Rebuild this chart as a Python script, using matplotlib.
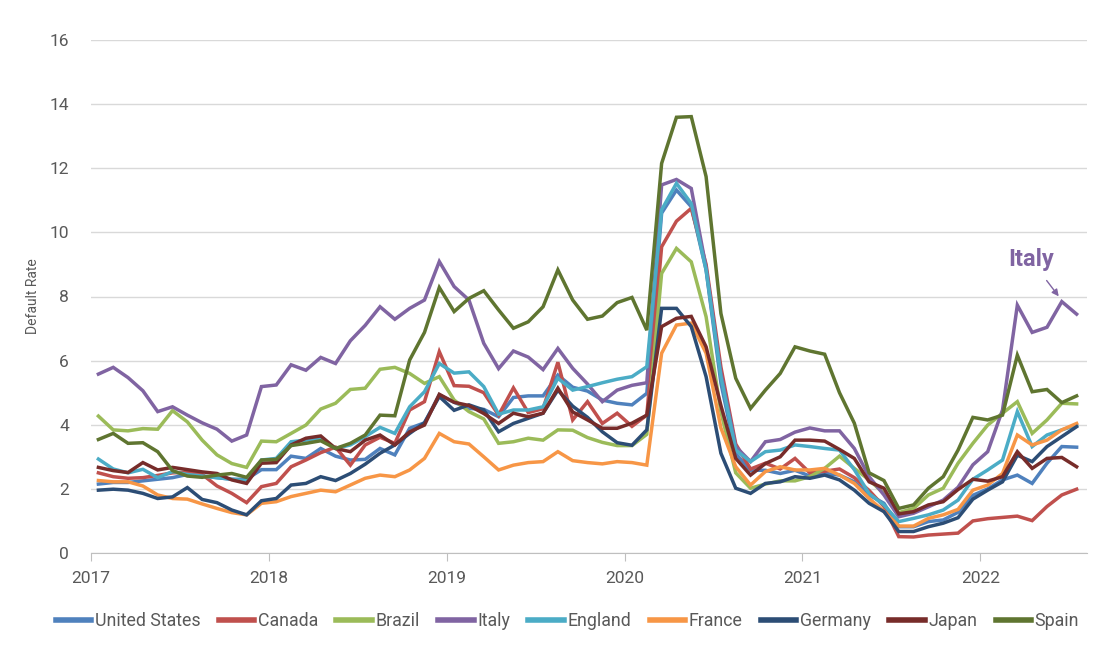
import matplotlib
matplotlib.use("Agg")
import matplotlib.pyplot as plt
import numpy as np

plt.rcParams['font.family'] = ['Liberation Sans Narrow', 'Roboto', 'DejaVu Sans']

# monthly default rates, Jan 2017 .. Jul 2022
years = [2017, 2018, 2019, 2020, 2021, 2022]

united_states = [2.15, 2.2, 2.2, 2.25, 2.3, 2.35, 2.45, 2.4, 2.35, 2.3, 2.3, 2.6,
                 2.6, 3.02, 2.95, 3.26, 3.02, 2.9, 2.92, 3.26, 3.06, 3.89, 4.06, 4.93,
                 4.7, 4.51, 4.48, 4.25, 4.85, 4.9, 4.9, 5.55, 5.17, 5.05, 4.77, 4.67,
                 4.62, 4.98, 10.6, 11.32, 10.8, 8.83, 5.3, 3.1, 2.58, 2.58, 2.48, 2.58,
                 2.4, 2.48, 2.43, 2.22, 1.81, 1.55, 0.82, 0.82, 0.98, 1.03, 1.27, 1.8,
                 2.0, 2.28, 2.43, 2.17, 2.8, 3.32, 3.3]
canada = [2.5, 2.38, 2.33, 2.35, 2.42, 2.5, 2.52, 2.45, 2.09, 1.86, 1.57, 2.07,
          2.17, 2.69, 2.9, 3.13, 3.3, 2.74, 3.37, 3.61, 3.42, 4.46, 4.72, 6.28,
          5.22, 5.2, 5.0, 4.3, 5.15, 4.38, 4.5, 5.95, 4.15, 4.72, 4.04, 4.36,
          3.95, 4.3, 9.55, 10.35, 10.75, 9.0, 5.8, 3.4, 2.62, 2.8, 2.62, 2.95,
          2.5, 2.55, 2.62, 2.35, 1.95, 1.45, 0.51, 0.5, 0.56, 0.59, 0.62, 1.0,
          1.07, 1.11, 1.15, 1.01, 1.45, 1.81, 1.99]
brazil = [4.27, 3.84, 3.81, 3.88, 3.86, 4.44, 4.09, 3.52, 3.06, 2.79, 2.67, 3.49,
          3.47, 3.73, 3.99, 4.49, 4.67, 5.1, 5.14, 5.73, 5.79, 5.6, 5.29, 5.5,
          4.77, 4.41, 4.18, 3.42, 3.47, 3.58, 3.52, 3.84, 3.83, 3.6, 3.45, 3.35,
          3.35, 3.7, 8.72, 9.5, 9.08, 7.37, 4.4, 2.5, 2.02, 2.15, 2.25, 2.25,
          2.38, 2.64, 3.02, 2.64, 2.28, 1.86, 1.26, 1.39, 1.81, 2.02, 2.8, 3.42,
          3.99, 4.36, 4.72, 3.73, 4.15, 4.67, 4.65]
italy = [5.58, 5.79, 5.47, 5.06, 4.41, 4.56, 4.3, 4.06, 3.86, 3.49, 3.68, 5.19,
         5.24, 5.87, 5.7, 6.1, 5.91, 6.62, 7.1, 7.68, 7.29, 7.63, 7.89, 9.09,
         8.31, 7.89, 6.54, 5.75, 6.3, 6.11, 5.72, 6.38, 5.76, 5.27, 4.72, 5.08,
         5.23, 5.31, 11.48, 11.65, 11.37, 8.9, 5.6, 3.32, 2.85, 3.47, 3.54, 3.77,
         3.9, 3.81, 3.81, 3.26, 2.38, 1.81, 1.13, 1.24, 1.44, 1.65, 2.05, 2.75,
         3.16, 4.46, 7.73, 6.88, 7.04, 7.84, 7.45]
england = [2.93, 2.62, 2.5, 2.61, 2.35, 2.54, 2.45, 2.4, 2.35, 2.3, 2.25, 2.9,
           2.95, 3.47, 3.52, 3.58, 3.26, 3.37, 3.63, 3.92, 3.73, 4.56, 5.03, 5.91,
           5.61, 5.65, 5.19, 4.33, 4.46, 4.46, 4.56, 5.45, 5.08, 5.19, 5.31, 5.42,
           5.5, 5.81, 10.7, 11.53, 10.9, 8.83, 5.5, 3.21, 2.85, 3.16, 3.21, 3.37,
           3.32, 3.26, 3.21, 2.6, 1.85, 1.5, 0.98, 1.08, 1.19, 1.34, 1.65, 2.3,
           2.59, 2.9, 4.41, 3.32, 3.68, 3.84, 3.99]
france = [2.26, 2.22, 2.22, 2.09, 1.81, 1.7, 1.68, 1.53, 1.39, 1.26, 1.19, 1.55,
          1.6, 1.76, 1.86, 1.96, 1.91, 2.12, 2.33, 2.43, 2.38, 2.59, 2.95, 3.73,
          3.47, 3.4, 3.0, 2.59, 2.74, 2.82, 2.85, 3.16, 2.88, 2.82, 2.78, 2.85,
          2.82, 2.74, 6.23, 7.11, 7.17, 6.23, 3.9, 2.69, 2.12, 2.54, 2.69, 2.59,
          2.59, 2.64, 2.43, 2.17, 1.7, 1.3, 0.84, 0.84, 1.08, 1.19, 1.36, 1.96,
          2.12, 2.48, 3.68, 3.37, 3.52, 3.84, 4.04]
germany = [1.96, 1.99, 1.96, 1.86, 1.7, 1.75, 2.04, 1.67, 1.57, 1.34, 1.19, 1.63,
           1.7, 2.12, 2.17, 2.38, 2.26, 2.48, 2.77, 3.11, 3.37, 3.73, 4.06, 4.88,
           4.45, 4.62, 4.46, 3.78, 4.04, 4.2, 4.36, 5.08, 4.58, 4.23, 3.78, 3.44,
           3.36, 3.84, 7.63, 7.63, 7.06, 5.5, 3.11, 2.02, 1.86, 2.17, 2.22, 2.38,
           2.33, 2.43, 2.28, 1.96, 1.55, 1.29, 0.67, 0.67, 0.82, 0.93, 1.1, 1.68,
           1.96, 2.22, 3.05, 2.85, 3.32, 3.63, 3.94]
japan = [2.67, 2.57, 2.51, 2.82, 2.59, 2.67, 2.6, 2.53, 2.48, 2.28, 2.17, 2.8,
         2.82, 3.37, 3.58, 3.65, 3.26, 3.16, 3.52, 3.68, 3.37, 3.78, 3.99, 4.95,
         4.7, 4.6, 4.35, 4.04, 4.36, 4.25, 4.36, 5.14, 4.4, 4.15, 3.89, 3.89,
         4.05, 4.3, 7.06, 7.32, 7.38, 6.43, 4.6, 2.95, 2.43, 2.79, 3.0, 3.52,
         3.52, 3.49, 3.23, 2.95, 2.22, 2.02, 1.22, 1.29, 1.5, 1.6, 1.98, 2.3,
         2.24, 2.38, 3.16, 2.64, 2.95, 2.98, 2.69]
spain = [3.54, 3.73, 3.42, 3.44, 3.16, 2.57, 2.4, 2.36, 2.43, 2.48, 2.36, 2.9,
         2.92, 3.35, 3.42, 3.5, 3.26, 3.42, 3.68, 4.3, 4.28, 6.02, 6.88, 8.28,
         7.53, 7.94, 8.18, 7.58, 7.01, 7.21, 7.68, 8.83, 7.89, 7.29, 7.39, 7.81,
         7.97, 6.95, 12.15, 13.59, 13.61, 11.74, 7.47, 5.45, 4.51, 5.08, 5.6, 6.43,
         6.3, 6.2, 5.0, 4.05, 2.5, 2.26, 1.39, 1.5, 2.02, 2.38, 3.21, 4.23,
         4.15, 4.3, 6.17, 5.03, 5.1, 4.69, 4.9]

series = [
    ('United States', united_states, '#4F81BD'),
    ('Canada', canada, '#C0504D'),
    ('Brazil', brazil, '#9BBB59'),
    ('Italy', italy, '#8064A2'),
    ('England', england, '#4BACC6'),
    ('France', france, '#F79646'),
    ('Germany', germany, '#2C4D75'),
    ('Japan', japan, '#772C2A'),
    ('Spain', spain, '#5F7530'),
]

# points sit mid-month, 0 = start of Jan 2017
months = np.arange(len(spain)) + 0.5

fig = plt.figure(figsize=(11.06, 6.48), dpi=100)
ax = fig.add_axes([91/1106, 1 - 553/648, (1087-91)/1106, (553-40)/648])

for name, vals, col in series:
    ax.plot(months, vals, color=col, lw=2.5, label=name, solid_joinstyle='miter')

ax.set_xlim(0, 67.2)
ax.set_ylim(0, 16)
ax.set_yticks(range(0, 17, 2))
ax.set_xticks([12*i for i in range(len(years))])
ax.set_xticklabels([str(y) for y in years])
ax.grid(axis='y', color='#D9D9D9', lw=1)
ax.set_axisbelow(True)
for s in ['top', 'right', 'left']:
    ax.spines[s].set_visible(False)
ax.spines['bottom'].set_color('#BFBFBF')
ax.tick_params(axis='y', length=0, pad=16, labelsize=12.5, labelcolor='#595959')
ax.tick_params(axis='x', length=6, color='#BFBFBF', pad=7, labelsize=12.5, labelcolor='#595959')
ax.set_ylabel('Default Rate', fontsize=10, color='#595959', labelpad=7)

ax.annotate('Italy', xy=(65.35, 7.97), xytext=(63.4, 9.15),
            ha='center', va='center', fontsize=17, fontweight='bold', color='#8064A2',
            arrowprops=dict(arrowstyle='-|>', color='#8064A2', lw=1, shrinkA=6, shrinkB=1,
                            mutation_scale=10))

fig.legend(loc='lower center', ncol=9, bbox_to_anchor=(0.513, 0.003), frameon=False,
           fontsize=12.8, handlelength=2.0, handletextpad=0.2, columnspacing=1.03,
           labelcolor='#595959')
for line in fig.legends[0].get_lines():
    line.set_linewidth(4)

fig.savefig('out.png', dpi=100)
